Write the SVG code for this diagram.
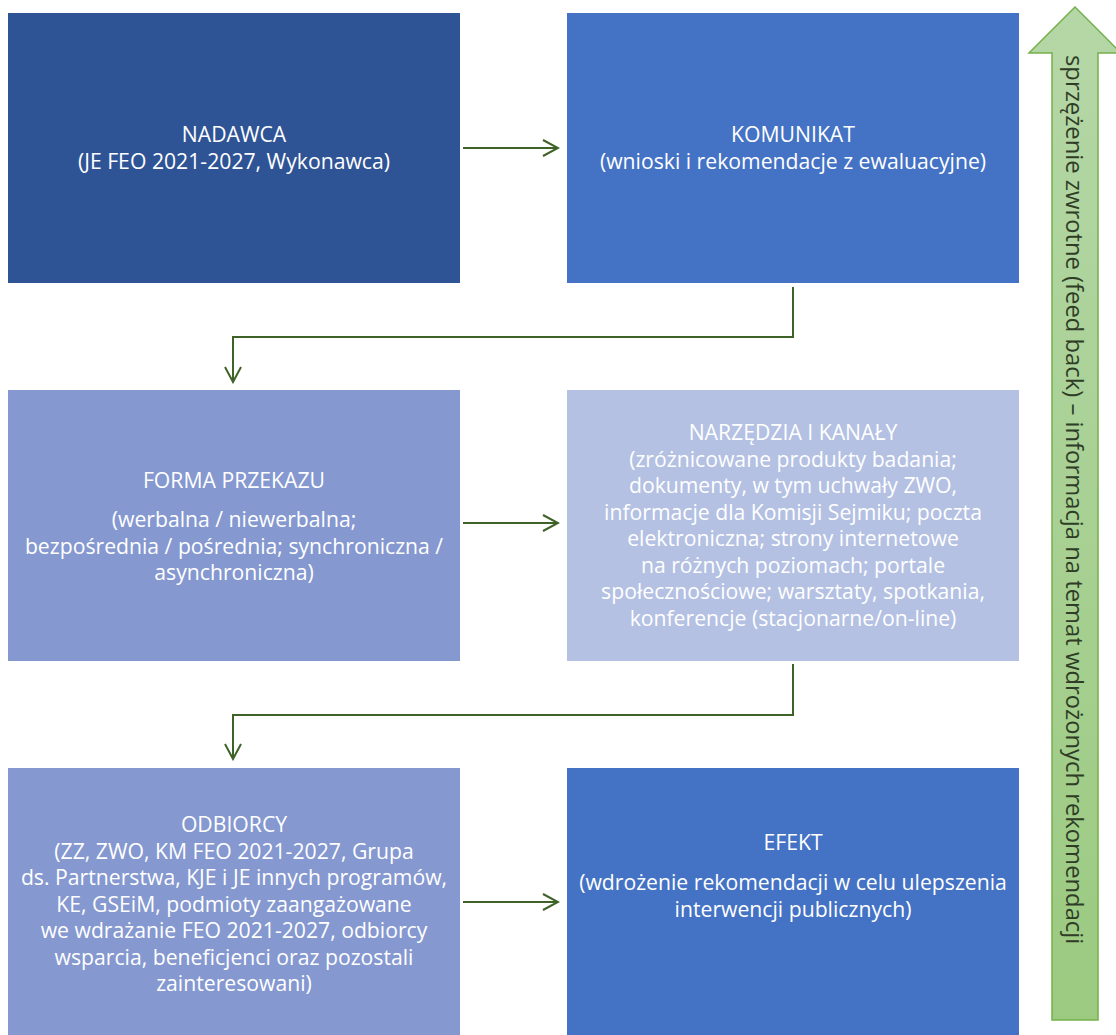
<svg xmlns="http://www.w3.org/2000/svg" width="1116" height="1035" viewBox="0 0 1116 1035">
<defs>
<style>
.box text{font-family:"Open Sans",Lato,"Liberation Sans",sans-serif;font-size:21.2px;fill:#ffffff;text-anchor:middle}
.conn{fill:none;stroke:#3f6228;stroke-width:2}
.fb{font-family:"Open Sans",Lato,"Liberation Sans",sans-serif;font-size:23.8px;fill:#2f3d26}
</style>
<linearGradient id="gr" x1="0" y1="0" x2="0" y2="1">
<stop offset="0" stop-color="#b5d7a7"/>
<stop offset="1" stop-color="#9bca80"/>
</linearGradient>
<marker id="ah" viewBox="0 0 20 20" refX="18" refY="10" markerWidth="20" markerHeight="20" markerUnits="userSpaceOnUse" orient="auto">
<path d="M3,2 L18,10 L3,18" fill="none" stroke="#3f6228" stroke-width="2"/>
</marker>
</defs>
<rect width="1116" height="1035" fill="#ffffff"/>

<g id="nadawca" class="box">
<rect x="8" y="13" width="452" height="270" fill="#2f5496"/>
<text x="234" y="142">NADAWCA</text>
<text x="234" y="168.5">(JE FEO 2021-2027, Wykonawca)</text>
</g>

<g id="komunikat" class="box">
<rect x="567" y="13" width="452" height="270" fill="#4472c4"/>
<text x="793" y="142">KOMUNIKAT</text>
<text x="793" y="168.5">(wnioski i rekomendacje z ewaluacyjne)</text>
</g>

<g id="forma" class="box">
<rect x="8" y="390" width="452" height="271" fill="#8598d0"/>
<text x="234" y="487.5">FORMA PRZEKAZU</text>
<text x="234" y="527">(werbalna / niewerbalna;</text>
<text x="234" y="553.5">bezpośrednia / pośrednia; synchroniczna /</text>
<text x="234" y="580">asynchroniczna)</text>
</g>

<g id="narzedzia" class="box">
<rect x="567" y="390" width="452" height="271" fill="#b4c1e3"/>
<text x="793" y="440">NARZĘDZIA I KANAŁY</text>
<text x="793" y="466.5">(zróżnicowane produkty badania;</text>
<text x="793" y="493">dokumenty, w tym uchwały ZWO,</text>
<text x="793" y="519.5">informacje dla Komisji Sejmiku; poczta</text>
<text x="793" y="546">elektroniczna; strony internetowe</text>
<text x="793" y="572.5">na różnych poziomach; portale</text>
<text x="793" y="599">społecznościowe; warsztaty, spotkania,</text>
<text x="793" y="625.5">konferencje (stacjonarne/on-line)</text>
</g>

<g id="odbiorcy" class="box">
<rect x="8" y="768" width="452" height="267" fill="#8598d0"/>
<text x="234" y="832">ODBIORCY</text>
<text x="234" y="858.5">(ZZ, ZWO, KM FEO 2021-2027, Grupa</text>
<text x="234" y="885">ds. Partnerstwa, KJE i JE innych programów,</text>
<text x="234" y="911.5">KE, GSEiM, podmioty zaangażowane</text>
<text x="234" y="938">we wdrażanie FEO 2021-2027, odbiorcy</text>
<text x="234" y="964.5">wsparcia, beneficjenci oraz pozostali</text>
<text x="234" y="991">zainteresowani)</text>
</g>

<g id="efekt" class="box">
<rect x="567" y="768" width="452" height="267" fill="#4472c4"/>
<text x="793" y="850">EFEKT</text>
<text x="793" y="890">(wdrożenie rekomendacji w celu ulepszenia</text>
<text x="793" y="916.5">interwencji publicznych)</text>
</g>

<g id="feedback">
<polygon points="1075,7 1121,53 1098,53 1098,1020 1052,1020 1052,53 1029,53" fill="url(#gr)" stroke="#74b04c" stroke-width="1.5"/>
<text class="fb" transform="translate(1066,55) rotate(90)">sprzężenie zwrotne (feed back) – informacja na temat wdrożonych rekomendacji</text>
</g>

<g id="connectors">
<path class="conn" d="M463,148 H558" marker-end="url(#ah)"/>
<path class="conn" d="M793,287 V337 H233 V382" marker-end="url(#ah)"/>
<path class="conn" d="M463,523 H558" marker-end="url(#ah)"/>
<path class="conn" d="M793,664 V715 H233 V759" marker-end="url(#ah)"/>
<path class="conn" d="M463,902 H558" marker-end="url(#ah)"/>
</g>
</svg>
